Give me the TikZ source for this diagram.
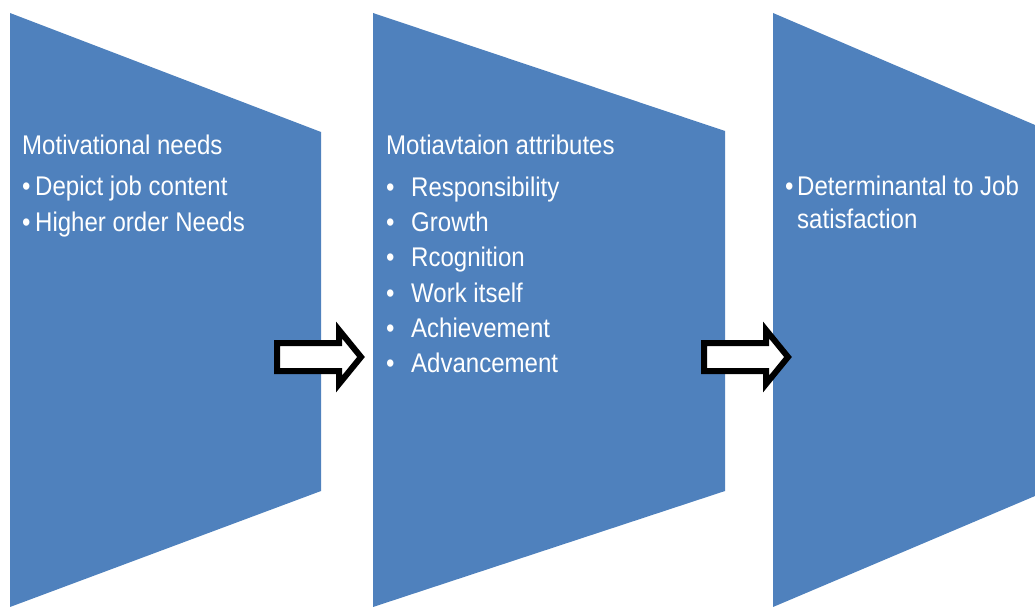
\documentclass[tikz,border=0pt]{standalone}
\usepackage{fontspec}
\setmainfont{Liberation Sans}
\newfontfamily\narrowsans[FakeStretch=0.89]{Liberation Sans}
\definecolor{slideblue}{HTML}{4F81BD}
\tikzset{
  panel/.style={fill=slideblue},
  blockarrow/.style={draw=black, fill=white, line width=6pt, line join=miter},
  txt/.style={text=white, anchor=base west, inner sep=0pt, font=\narrowsans\fontsize{27}{32}\selectfont},
}
\begin{document}
\begin{tikzpicture}[x=1pt,y=-1pt]
\useasboundingbox (0,0) rectangle (1035,607);
% panels
\fill[panel] (10,13) -- (321,132) -- (321,491) -- (10,607) -- cycle;
\fill[panel] (373,13) -- (725,131) -- (725,491) -- (373,607) -- cycle;
\fill[panel] (773,13) -- (1035,125) -- (1035,496) -- (773,607) -- cycle;
% arrows
\draw[blockarrow] (277,343) -- (339,343) -- (339,330) -- (361,357) -- (339,384) -- (339,371) -- (277,371) -- cycle;
\draw[blockarrow] (704,343) -- (766,343) -- (766,330) -- (788,357) -- (766,384) -- (766,371) -- (704,371) -- cycle;

% first panel
\node[txt] (needs) at (22,154) {Motivational needs};
\node[txt] (needsdot1) at (22,195) {•};
\node[txt] (content) at (35,195) {Depict job content};
\node[txt] (needsdot2) at (22,231) {•};
\node[txt] (higher) at (35,231) {Higher order Needs};

% second panel
\node[txt] (attr) at (386,154) {Motiavtaion attributes};
\node[txt] (attrdot1) at (386,196) {•};
\node[txt] (resp) at (411,196) {Responsibility};
\node[txt] (attrdot2) at (386,231) {•};
\node[txt] (growth) at (411,231) {Growth};
\node[txt] (attrdot3) at (386,266) {•};
\node[txt] (recog) at (411,266) {Rcognition};
\node[txt] (attrdot4) at (386,302) {•};
\node[txt] (work) at (411,302) {Work itself};
\node[txt] (attrdot5) at (386,337) {•};
\node[txt] (achieve) at (411,337) {Achievement};
\node[txt] (attrdot6) at (386,372) {•};
\node[txt] (advance) at (411,372) {Advancement};

% third panel
\node[txt] (satdot) at (785,195) {•};
\node[txt] (determ) at (797,195) {Determinantal to Job};
\node[txt] (satis) at (797,228) {satisfaction};

\end{tikzpicture}
\end{document}
